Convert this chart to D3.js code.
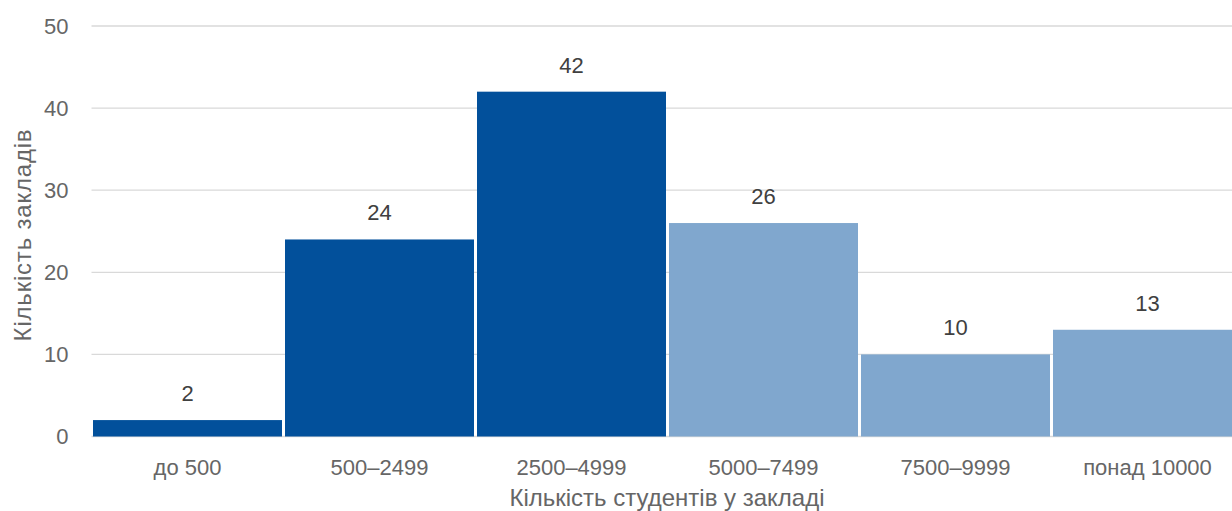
<!DOCTYPE html>
<html>
<head>
<meta charset="utf-8">
<script src="https://cdn.jsdelivr.net/npm/d3@7"></script>
<style>
  html, body { margin: 0; padding: 0; background: #fff; }
  svg { display: block; font-family: "Liberation Sans", Arial, sans-serif; }
</style>
</head>
<body>
<svg id="chart" width="1232" height="511"></svg>
<script>
// Розподіл закладів за кількістю студентів
const categories = ["до 500", "500–2499", "2500–4999", "5000–7499", "7500–9999", "понад 10000"];
const counts = [2, 24, 42, 26, 10, 13];
const shades = ["dark", "dark", "dark", "light", "light", "light"];
const yTicks = [0, 10, 20, 30, 40, 50];
const xTitle = "Кількість студентів у закладі";
const yTitle = "Кількість закладів";

const palette = { dark: "#02509B", light: "#80A7CE" };
const fontFamily = "Liberation Sans, Arial, sans-serif";

const svg = d3.select("#chart");
const plotLeft = 91.5, plotRight = 1243.5, plotTop = 26, plotBottom = 436.5;

const x = d3.scaleBand().domain(categories).range([plotLeft, plotRight])
  .paddingInner(3 / 192).paddingOuter(1.5 / 192);
const y = d3.scaleLinear().domain([0, 50]).range([plotBottom, plotTop]);

// horizontal gridlines
svg.append("g").selectAll("line").data(yTicks).join("line")
  .attr("x1", plotLeft).attr("x2", 1232)
  .attr("y1", d => y(d)).attr("y2", d => y(d))
  .attr("stroke", "#D9D9D9").attr("stroke-width", 1.3);

// y axis tick labels
const yAxis = d3.axisLeft(y).tickValues(yTicks).tickSize(0).tickPadding(23);
svg.append("g").attr("transform", `translate(${plotLeft},0)`).call(yAxis)
  .call(g => g.select(".domain").remove())
  .call(g => g.selectAll("text").attr("font-size", 22).attr("fill", "#666")
    .attr("font-family", fontFamily));

// bars
svg.append("g").selectAll("rect").data(categories).join("rect")
  .attr("x", d => x(d))
  .attr("width", x.bandwidth())
  .attr("y", (d, i) => y(counts[i]))
  .attr("height", (d, i) => y(0) - y(counts[i]))
  .attr("fill", (d, i) => palette[shades[i]]);

// value labels
svg.append("g").selectAll("text").data(categories).join("text")
  .attr("x", d => x(d) + x.bandwidth() / 2)
  .attr("y", (d, i) => y(counts[i]) - 19)
  .attr("text-anchor", "middle")
  .attr("font-size", 22).attr("fill", "#404040")
  .text((d, i) => counts[i]);

// x axis tick labels
const xAxis = d3.axisBottom(x).tickSize(0).tickPadding(23);
svg.append("g").attr("transform", `translate(0,${plotBottom})`).call(xAxis)
  .call(g => g.select(".domain").remove())
  .call(g => g.selectAll("text").attr("font-size", 22).attr("fill", "#666")
    .attr("font-family", fontFamily));

// axis titles
svg.append("text")
  .attr("x", 667).attr("y", 506)
  .attr("text-anchor", "middle").attr("font-size", 24).attr("fill", "#666")
  .text(xTitle);

svg.append("text")
  .attr("transform", "translate(31,235) rotate(-90)")
  .attr("text-anchor", "middle").attr("font-size", 24).attr("fill", "#666")
  .attr("letter-spacing", 0.8)
  .text(yTitle);
</script>
</body>
</html>
